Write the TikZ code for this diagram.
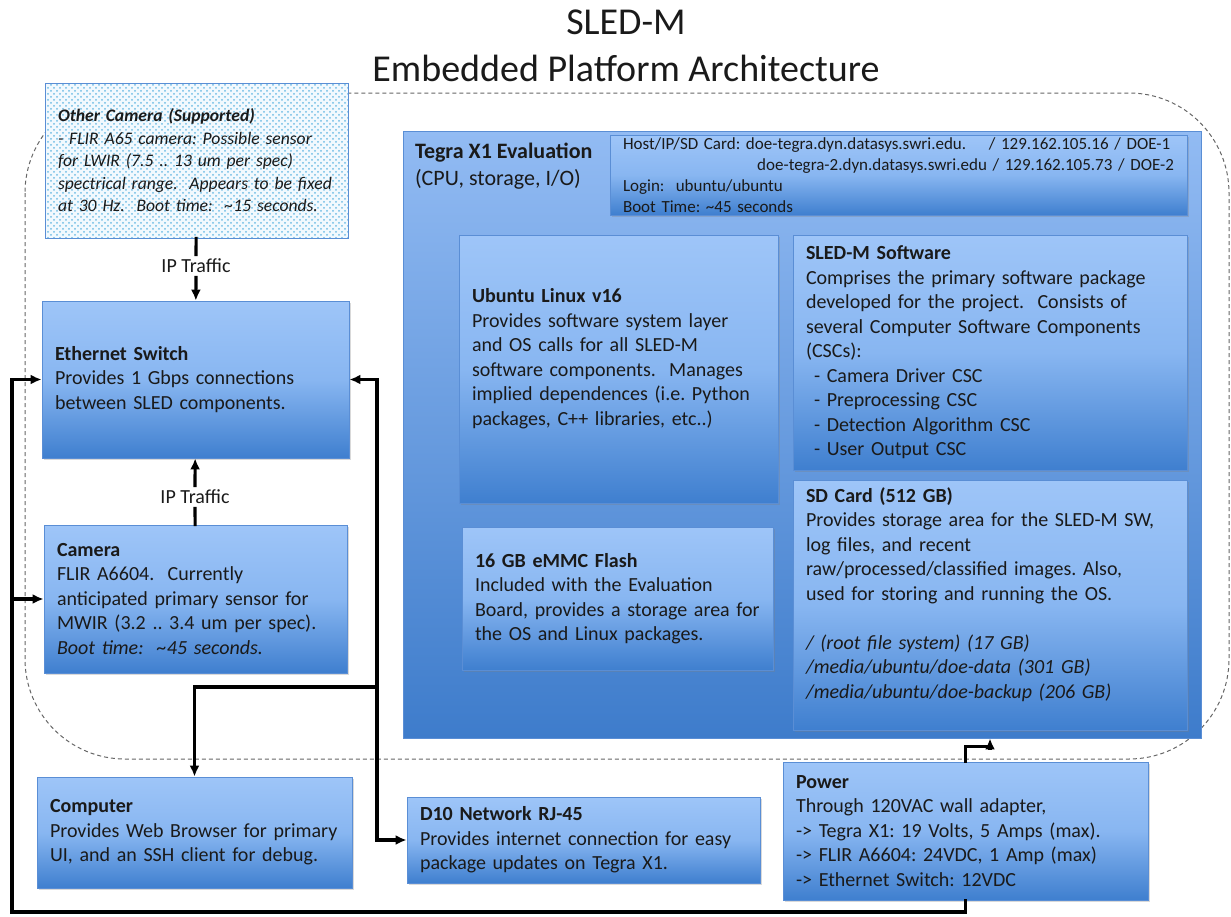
\documentclass[tikz,border=0pt]{standalone}
\usepackage{fontspec}
\setmainfont{Carlito}
\usetikzlibrary{arrows.meta,shadows,patterns}
\frenchspacing
\definecolor{boxtop}{HTML}{9EC5F8}
\definecolor{boxmid}{HTML}{88B6F1}
\definecolor{boxbot}{HTML}{3F7FCF}
\definecolor{tegtop}{HTML}{92BBF3}
\definecolor{tegbot}{HTML}{3E7CCB}
\definecolor{boxline}{HTML}{5A8ED5}
\definecolor{dotbg}{HTML}{F2F9FE}
\definecolor{dotc}{HTML}{6FBCE4}
\definecolor{textc}{HTML}{1A1A1A}

\begin{document}
\begin{tikzpicture}[x=0.5pt,y=-0.5pt,
    >={Latex[length=5.5pt,width=5pt]},
    blk/.style={draw=boxline, line width=0.4pt, top color=boxtop, bottom color=boxbot, middle color=boxmid,
      align=left, inner xsep=6.5pt, inner ysep=0pt, text=textc, font=\fontsize{10}{12.25}\selectfont,
      drop shadow={shadow xshift=0.8pt, shadow yshift=-1pt, opacity=0.3}},
    tegbox/.style={draw=boxline, line width=0.4pt, top color=tegtop, bottom color=tegbot},
    tlabel/.style={anchor=north west, align=left, inner sep=0pt, xshift=6pt, yshift=-6pt,
      text=textc, font=\fontsize{11}{13.5}\selectfont},
    dotbox/.style={draw=boxline, line width=0.4pt, preaction={fill=dotbg}, pattern=crosshatch dots, pattern color=dotc,
      align=left, inner xsep=6.5pt, inner ysep=0pt, text=textc, font=\fontsize{8.8}{11.25}\selectfont\itshape},
    iplabel/.style={inner sep=2pt, text=textc, font=\fontsize{10}{12}\selectfont},
    wire/.style={line width=1.6pt, line cap=rect},
    frame/.style={draw=black!60, line width=0.5pt, dash pattern=on 2pt off 1.5pt, rounded corners=50pt}]
  \useasboundingbox (0,0) rectangle (1231,916);
  \draw[frame] (25,93) rectangle (1229,759);

  \node[text=textc, font=\fontsize{19}{23}\selectfont] (title1) at (626,22) {SLED-M};
  \node[text=textc, font=\fontsize{19}{23}\selectfont] (title2) at (626,68) {Embedded Platform Architecture};

  \node[tegbox, minimum width=399pt, minimum height=303.5pt,
    label={[tlabel]north west:{\textbf{Tegra X1 Evaluation}\\(CPU, storage, I/O)}}] (tegra) at (802,434.5) {};
  \node[blk, minimum width=288.5pt, text width=275.5pt, minimum height=40pt, font=\fontsize{8.5}{10.5}\selectfont] (hostinfo) at (898.5,175)
    {Host/IP/SD Card: doe-tegra.dyn.datasys.swri.edu.\ \ \ \ / 129.162.105.16 / DOE-1\\
     \hfill doe-tegra-2.dyn.datasys.swri.edu / 129.162.105.73 / DOE-2\\
     Login:\ \ ubuntu/ubuntu\\
     Boot Time: \textasciitilde45 seconds};
  \node[blk, minimum width=159.5pt, text width=146.5pt, minimum height=134pt] (ubuntu) at (618.5,369)
    {\textbf{Ubuntu Linux v16}\\
     Provides software system layer\\
     and OS calls for all SLED-M\\
     software components.\ \ Manages\\
     implied dependences (i.e. Python\\
     packages, C++ libraries, etc..)\\
     \mbox{}};
  \node[blk, minimum width=197pt, text width=184pt, minimum height=117.5pt] (sledsw) at (990,352.5)
    {\textbf{SLED-M Software}\\
     Comprises the primary software package\\
     developed for the project.\ \ Consists of\\
     several Computer Software Components\\
     (CSCs):\\
     \hspace*{4pt}- Camera Driver CSC\\
     \hspace*{4pt}- Preprocessing CSC\\
     \hspace*{4pt}- Detection Algorithm CSC\\
     \hspace*{4pt}- User Output CSC};
  \node[blk, minimum width=197pt, text width=184pt, minimum height=125pt] (sdcard) at (990,605)
    {\textbf{SD Card (512 GB)}\\
     Provides storage area for the SLED-M SW,\\
     log files, and recent\\
     raw/processed/classified images. Also,\\
     used for storing and running the OS.\\[12.25pt]
     \textit{/ (root file system) (17 GB)}\\
     \textit{/media/ubuntu/doe-data (301 GB)}\\
     \textit{/media/ubuntu/doe-backup (206 GB)}\\
     \mbox{}};
  \node[blk, minimum width=155.5pt, text width=142.5pt, minimum height=71.5pt] (emmc) at (617.5,598.5)
    {\textbf{16 GB eMMC Flash}\\
     Included with the Evaluation\\
     Board, provides a storage area for\\
     the OS and Linux packages.};

  \node[dotbox, minimum width=151.5pt, text width=138.5pt, minimum height=77.5pt] (othercam) at (196.5,160.5)
    {\textbf{Other Camera (Supported)}\\
     - FLIR A65 camera: Possible sensor\\
     for LWIR (7.5 .. 13 um per spec)\\
     spectrical range.\ \ Appears to be fixed\\
     at 30 Hz.\ \ Boot time:\ \ \textasciitilde15 seconds.};
  \node[blk, minimum width=153.5pt, text width=140.5pt, minimum height=78.5pt] (switch) at (195.5,379.5)
    {\textbf{Ethernet Switch}\\
     Provides 1 Gbps connections\\
     between SLED components.};
  \node[blk, minimum width=151.5pt, text width=138.5pt, minimum height=74pt] (camera) at (195.5,599)
    {\textbf{Camera}\\
     FLIR A6604.\ \ Currently\\
     anticipated primary sensor for\\
     MWIR (3.2 .. 3.4 um per spec).\\
     \textit{Boot time:\ \ \textasciitilde45 seconds.}};
  \node[blk, minimum width=157.5pt, text width=144.5pt, minimum height=55.5pt] (computer) at (194.5,832.5)
    {\textbf{Computer}\\
     Provides Web Browser for primary\\
     UI, and an SSH client for debug.};
  \node[blk, minimum width=176.5pt, text width=163.5pt, minimum height=43pt] (d10) at (583.5,840)
    {\textbf{D10 Network RJ-45}\\
     Provides internet connection for easy\\
     package updates on Tegra X1.};
  \node[blk, minimum width=182.5pt, text width=169.5pt, minimum height=69pt] (power) at (965.5,831)
    {\textbf{Power}\\
     Through 120VAC wall adapter,\\
     -> Tegra X1: 19 Volts, 5 Amps (max).\\
     -> FLIR A6604: 24VDC, 1 Amp (max)\\
     -> Ethernet Switch: 12VDC};

  \node[iplabel] (ip1) at (196,266) {IP Traffic};
  \node[iplabel] (ip2) at (195,497) {IP Traffic};
  \coordinate (busbl) at (12,912);
  \coordinate (netx) at (377,687);

  \draw[wire] (othercam) -- (ip1);
  \draw[wire,->] (ip1) -- (switch);
  \draw[wire] (camera) -- (ip2);
  \draw[wire,->] (ip2) -- (switch);
  \draw[wire,->] (power.south) |- (busbl) |- (switch.west);
  \draw[wire,->] (busbl |- camera.west) -- (camera.west);
  \draw[wire,->] (netx) |- (switch.east);
  \draw[wire,->] (netx) -| (computer.north);
  \draw[wire,->] (netx) |- (d10.west);
  \draw[wire,->] (power.north) -- ++(0,-15) -| (sdcard.south |- tegra.south);
\end{tikzpicture}
\end{document}
